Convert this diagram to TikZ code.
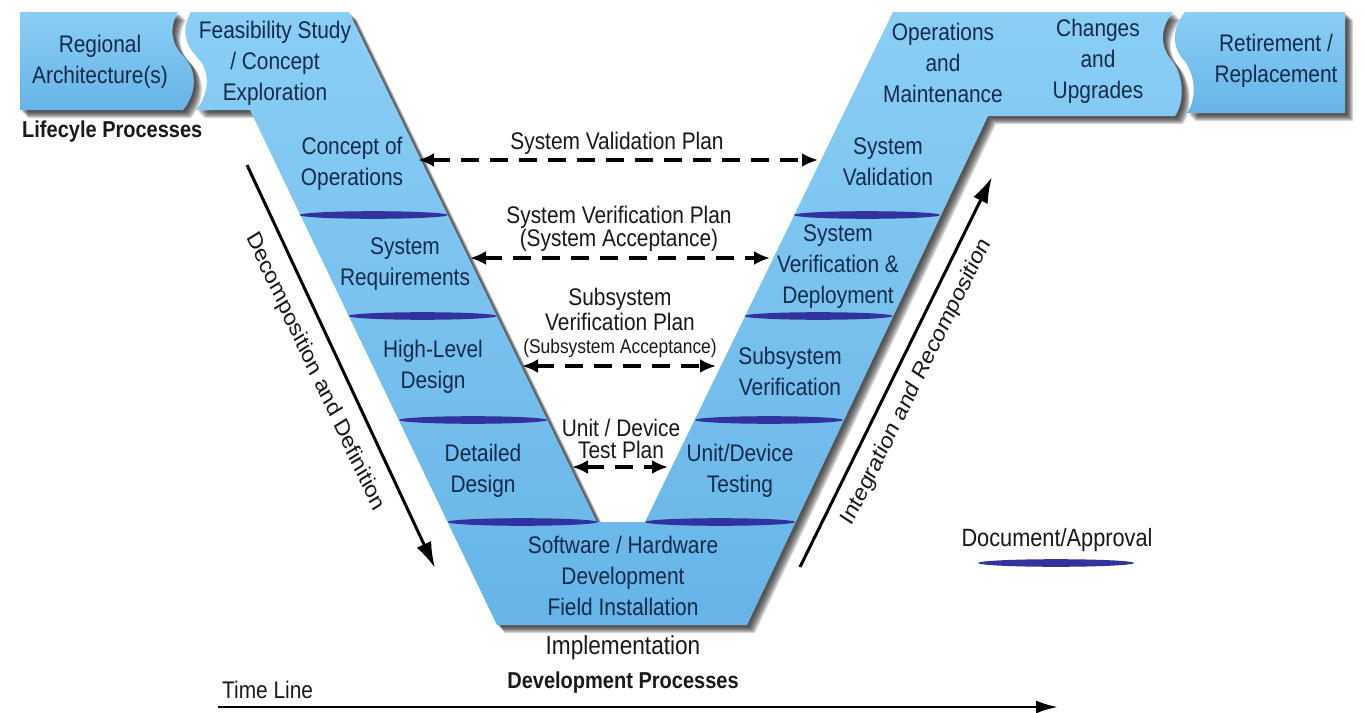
\documentclass[tikz,border=0pt]{standalone}
\usepackage{fontspec}
\setmainfont{Liberation Sans}[FakeStretch=0.87]
\newfontfamily\plainsans{Liberation Sans}
\usetikzlibrary{arrows.meta}
\definecolor{vbluetop}{RGB}{138,206,244}
\definecolor{vbluebot}{RGB}{102,180,232}
\definecolor{boxtext}{RGB}{22,42,75}
\definecolor{labtext}{RGB}{25,25,25}
\definecolor{docblue}{RGB}{50,50,158}
\definecolor{shadowc}{RGB}{25,25,25}
\newcommand\vpathdef{(191,12) -- (349,12) -- (597,522) -- (645,522) -- (893,12) -- (1173,12)
  .. controls (1160,28) and (1160,45) .. (1170,58) .. controls (1183,72) and (1186,100) .. (1175,116)
  -- (988,116) -- (747,625) -- (497,625) -- (250,110) -- (196,110)
  .. controls (209,95) and (211,72) .. (198,58) .. controls (185,45) and (181,30) .. (191,12) -- cycle}
\newcommand\regpathdef{(20,12) -- (178,12) .. controls (168,30) and (172,45) .. (185,58)
  .. controls (198,72) and (196,95) .. (183,110) -- (20,110) -- cycle}
\newcommand\retpathdef{(1185,12) -- (1345,12) -- (1345,113) -- (1187,113)
  .. controls (1198,97) and (1195,72) .. (1182,58) .. controls (1172,45) and (1172,28) .. (1185,12) -- cycle}
\begin{document}
\begin{tikzpicture}[x=1pt,y=-1pt,
  boxtxt/.style={font=\fontsize{24}{31}\selectfont, text=boxtext, align=center, inner sep=0pt},
  labtxt/.style={font=\fontsize{24}{23}\selectfont, text=labtext, align=center, inner sep=0pt},
  planarrow/.style={line width=3.2pt, draw=black, dash pattern=on 18pt off 11pt,
     {Latex[length=16pt,width=14pt]}-{Latex[length=16pt,width=14pt]}},
  bigarrow/.style={line width=3pt, draw=black, -{Latex[length=26pt,width=16pt]}},
  shadowcopy/.style={fill=shadowc, fill opacity=0.17},
  vfill/.style={top color=vbluetop, bottom color=vbluebot, draw=none}]
\useasboundingbox (0,0) rectangle (1365,712);
\fill[white] (0,0) rectangle (1365,712);
% shadows
\foreach \k in {2,3,4,5,6,7,8}{
  \fill[shadowcopy, shift={(\k,\k)}] \vpathdef;
  \fill[shadowcopy, shift={(\k,\k)}] \regpathdef;
  \fill[shadowcopy, shift={(\k,\k)}] \retpathdef;
}
% shapes
\shade[vfill] \vpathdef;
\shade[vfill] \regpathdef;
\shade[vfill] \retpathdef;
% document / approval lines
\foreach \cx/\cy/\rx in {373.5/215/74, 867/215/73, 422.5/316/74, 818.5/316/74,
  473/420/74, 769/420/74, 522.5/522/75, 720/522/75, 1056/563/78}{
  \fill[docblue] (\cx,\cy) ellipse (\rx pt and 3.8pt);
}
% texts in boxes
\node[boxtxt] (reg) at (100,62) {Regional\\Architecture(s)};
\node[boxtxt] (feas) at (275,63) {Feasibility Study\\/ Concept\\Exploration};
\node[boxtxt] (conops) at (352,164) {Concept of\\Operations};
\node[boxtxt] (sysreq) at (405,264) {System\\Requirements};
\node[boxtxt] (hld) at (433,367) {High-Level\\Design};
\node[boxtxt] (dd) at (483,471) {Detailed\\Design};
\node[boxtxt] (swhw) at (623,576) {Software / Hardware\\Development\\Field Installation};
\node[boxtxt] (sysval) at (888,162) {System\\Validation};
\node[boxtxt] (sysver) at (838,267) {System\\Verification \&\\Deployment};
\node[boxtxt] (subver) at (790,371) {Subsystem\\Verification};
\node[boxtxt] (unitt) at (740,471) {Unit/Device\\Testing};
\node[boxtxt] (opsm) at (943,63) {Operations\\and\\Maintenance};
\node[boxtxt] (chg) at (1098,61) {Changes\\and\\Upgrades};
\node[boxtxt] (retire) at (1276,61) {Retirement /\\Replacement};
% other labels
\node[labtxt, font=\bfseries\fontsize{23}{26}\selectfont, anchor=west] (lifecyc) at (22,132) {Lifecyle Processes};
\node[labtxt, font=\fontsize{26}{28}\selectfont] (impl) at (623,648) {Implementation};
\node[labtxt, font=\bfseries\fontsize{23}{26}\selectfont] (devproc) at (623,683) {Development Processes};
\node[labtxt, font=\fontsize{24}{26}\selectfont, anchor=west] (timeline) at (222,690) {Time Line};
\node[labtxt, font=\fontsize{25}{27}\selectfont] (docapp) at (1057,540) {Document/Approval};
\node[labtxt] (svplab) at (617,143) {System Validation Plan};
\node[labtxt] (sverlab) at (619,229) {System Verification Plan\\(System Acceptance)};
\node[labtxt, font=\fontsize{24}{25}\selectfont] (subvlab) at (620,309.5) {Subsystem\\Verification Plan};
\node[labtxt, font=\fontsize{20}{22}\selectfont] (subacc) at (620,348) {(Subsystem Acceptance)};
\node[labtxt, font=\fontsize{24}{22}\selectfont] (utplab) at (621,439) {Unit / Device\\Test Plan};
% rotated labels (horizontally compressed like the rest)
\begin{scope}[xscale=0.87]
\node[labtxt, font=\plainsans\fontsize{24}{26}\selectfont, rotate=-61.8, transform shape] (decomp) at ({315/0.87},372) {Decomposition and Definition};
\node[labtxt, font=\plainsans\fontsize{24}{26}\selectfont, rotate=60.5, transform shape] (integ) at ({917/0.87},382) {Integration and Recomposition};
\end{scope}
% arrow end points
\coordinate (svpL) at (418,160);  \coordinate (svpR) at (818,160);
\coordinate (sverL) at (470,258); \coordinate (sverR) at (770,258);
\coordinate (subL) at (522,366);  \coordinate (subR) at (716,366);
\coordinate (utL) at (572,467);   \coordinate (utR) at (668,467);
\coordinate (decA) at (247,165);  \coordinate (decB) at (435,568);
\coordinate (intA) at (800,567);  \coordinate (intB) at (992,177);
\coordinate (tlA) at (218,707);   \coordinate (tlB) at (1058,707);
\draw[planarrow] (svpL) -- (svpR);
\draw[planarrow] (sverL) -- (sverR);
\draw[planarrow] (subL) -- (subR);
\draw[planarrow] (utL) -- (utR);
\draw[bigarrow] (decA) -- (decB);
\draw[bigarrow] (intA) -- (intB);
\draw[line width=2.6pt, -{Latex[length=22pt,width=13pt]}] (tlA) -- (tlB);
\end{tikzpicture}
\end{document}
